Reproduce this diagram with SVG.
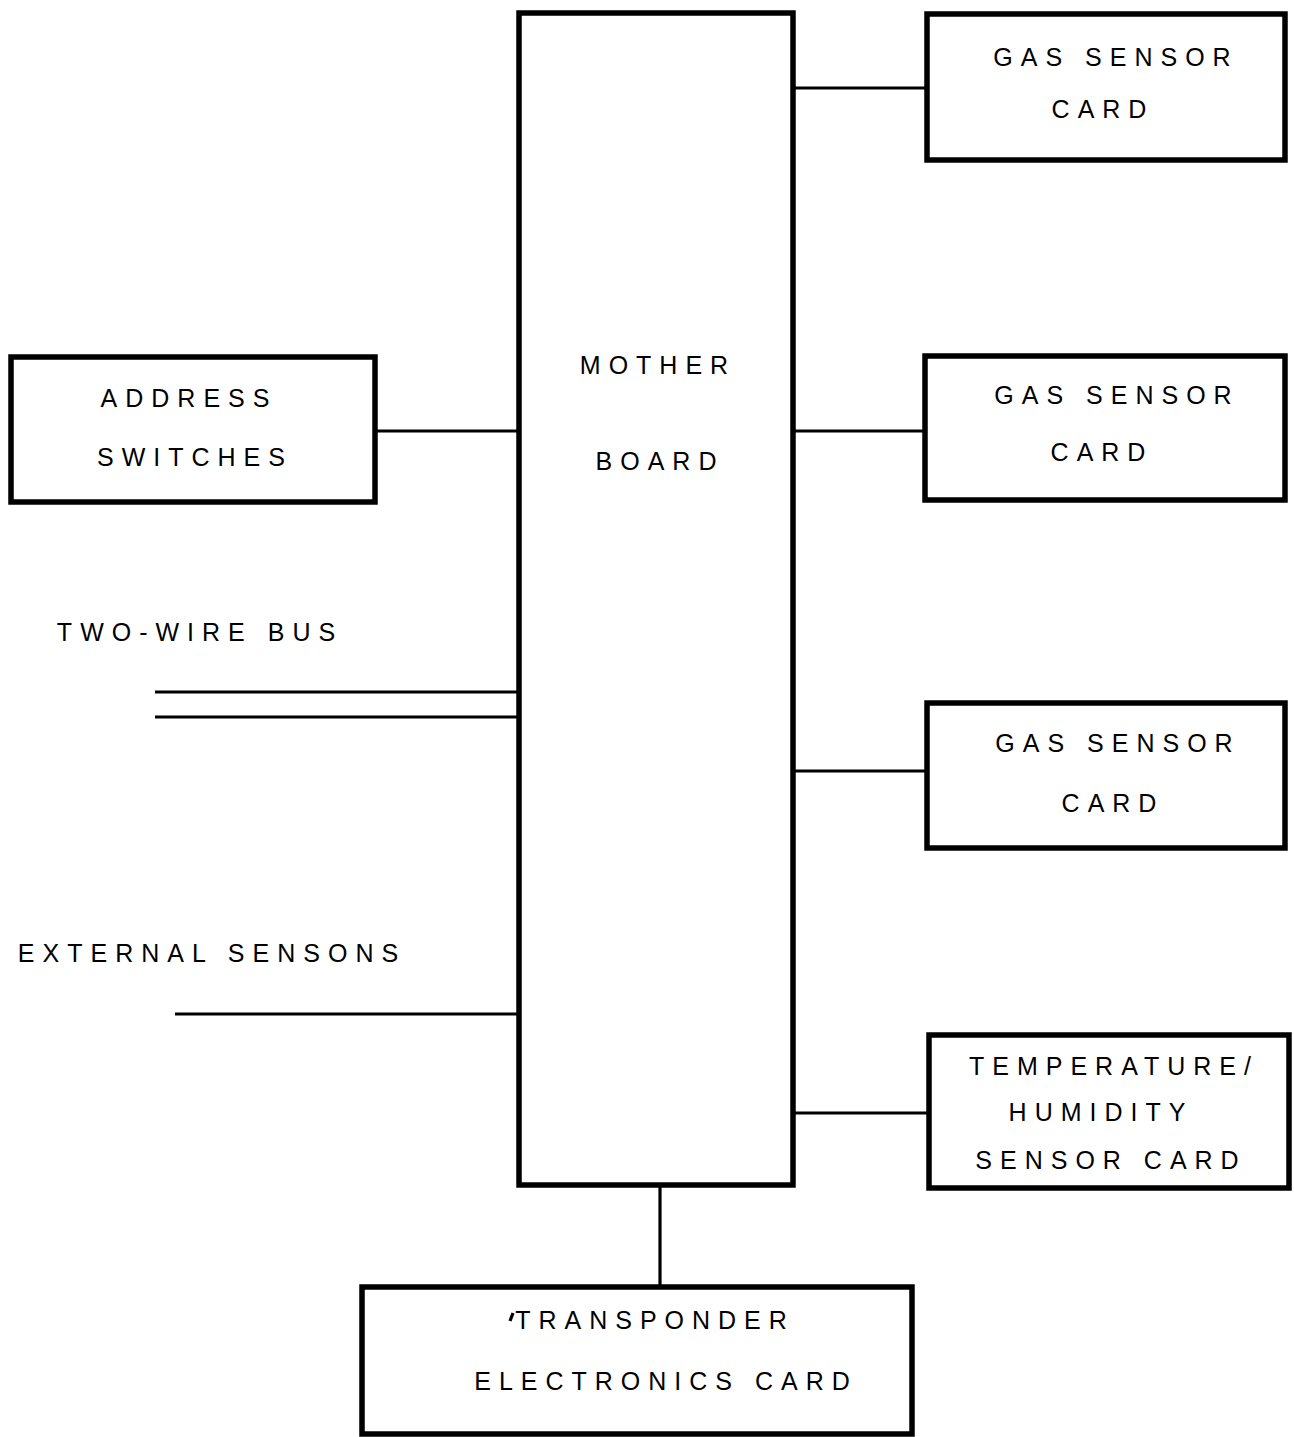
<svg xmlns="http://www.w3.org/2000/svg" width="1294" height="1437" viewBox="0 0 1294 1437">
  <style>
    .box { fill: none; stroke: #000; stroke-width: 5.5; }
    .wire { fill: none; stroke: #000; stroke-width: 3.2; }
    .lbl { font-family: "Liberation Sans", Arial, sans-serif; font-size: 25px; fill: #000; letter-spacing: 8px; text-anchor: middle; }
  </style>
  <rect width="1294" height="1437" fill="#fff"/>

  <g id="connectors">
    <line class="wire" x1="793" y1="88" x2="927" y2="88"/>
    <line class="wire" x1="793" y1="431" x2="925" y2="431"/>
    <line class="wire" x1="793" y1="771" x2="927" y2="771"/>
    <line class="wire" x1="793" y1="1113" x2="929" y2="1113"/>
    <line class="wire" x1="375" y1="431" x2="519" y2="431"/>
    <line class="wire" x1="155" y1="692" x2="519" y2="692"/>
    <line class="wire" x1="155" y1="717" x2="519" y2="717"/>
    <line class="wire" x1="175" y1="1014" x2="519" y2="1014"/>
    <line class="wire" x1="660" y1="1185" x2="660" y2="1287"/>
  </g>

  <g id="mother-board">
    <rect class="box" x="519" y="13" width="274" height="1172"/>
    <text class="lbl" x="658" y="374">MOTHER</text>
    <text class="lbl" x="660" y="470">BOARD</text>
  </g>

  <g id="address-switches">
    <rect class="box" x="11" y="357" width="364" height="145"/>
    <text class="lbl" x="189" y="407">ADDRESS</text>
    <text class="lbl" x="195" y="466">SWITCHES</text>
  </g>

  <g id="two-wire-bus">
    <text class="lbl" x="200" y="641">TWO-WIRE BUS</text>
  </g>

  <g id="external-sensors">
    <text class="lbl" x="212" y="962">EXTERNAL SENSONS</text>
  </g>

  <g id="gas-sensor-card-1">
    <rect class="box" x="927" y="14" width="358" height="146"/>
    <text class="lbl" x="1116" y="66">GAS SENSOR</text>
    <text class="lbl" x="1103" y="118">CARD</text>
  </g>

  <g id="gas-sensor-card-2">
    <rect class="box" x="925" y="356" width="360" height="144"/>
    <text class="lbl" x="1117" y="404">GAS SENSOR</text>
    <text class="lbl" x="1102" y="461">CARD</text>
  </g>

  <g id="gas-sensor-card-3">
    <rect class="box" x="927" y="703" width="358" height="145"/>
    <text class="lbl" x="1118" y="752">GAS SENSOR</text>
    <text class="lbl" x="1113" y="812">CARD</text>
  </g>

  <g id="temp-humidity-card">
    <rect class="box" x="929" y="1035" width="360" height="153"/>
    <text class="lbl" x="1114" y="1075">TEMPERATURE/</text>
    <text class="lbl" x="1101" y="1121">HUMIDITY</text>
    <text class="lbl" x="1111" y="1169">SENSOR CARD</text>
  </g>

  <g id="transponder-card">
    <rect class="box" x="362" y="1287" width="550" height="147"/>
    <line class="wire" x1="513" y1="1313" x2="510" y2="1321" stroke-width="2"/>
    <text class="lbl" x="655" y="1329">TRANSPONDER</text>
    <text class="lbl" x="666" y="1390">ELECTRONICS CARD</text>
  </g>
</svg>
